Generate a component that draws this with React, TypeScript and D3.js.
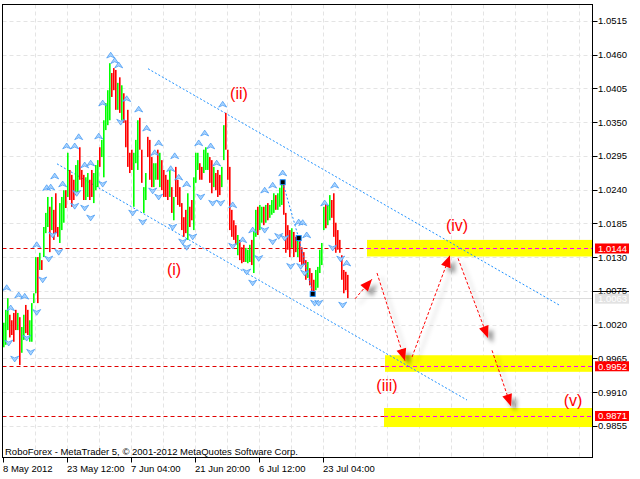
import React from 'react';
import * as d3 from 'd3';

// ---- candle data (H4 bars) ----
const highs = [
  1.0023, 1.0044, 1.0063, 1.0036, 1.0027, 1.0039, 1.0044, 1.0039, 1.0032, 1.0016,
  1.0036, 1.0052, 1.0044, 1.0027, 1.0055, 1.0071, 1.0130, 1.0130, 1.0137, 1.0125,
  1.0179, 1.0202, 1.0228, 1.0212, 1.0228, 1.0207, 1.0234, 1.0179, 1.0218, 1.0228,
  1.0239, 1.0239, 1.0300, 1.0272, 1.0264, 1.0256, 1.0280, 1.0288, 1.0309, 1.0272,
  1.0264, 1.0260, 1.0267, 1.0256, 1.0272, 1.0267, 1.0280, 1.0288, 1.0309, 1.0321,
  1.0353, 1.0381, 1.0402, 1.0446, 1.0430, 1.0438, 1.0435, 1.0414, 1.0423, 1.0410,
  1.0397, 1.0353, 1.0370, 1.0300, 1.0305, 1.0300, 1.0321, 1.0353, 1.0357, 1.0305,
  1.0244, 1.0267, 1.0326, 1.0321, 1.0293, 1.0283, 1.0283, 1.0305, 1.0300, 1.0288,
  1.0272, 1.0264, 1.0256, 1.0272, 1.0244, 1.0228, 1.0277, 1.0256, 1.0244, 1.0218,
  1.0195, 1.0207, 1.0234, 1.0212, 1.0223, 1.0260, 1.0300, 1.0300, 1.0283, 1.0277,
  1.0305, 1.0309, 1.0300, 1.0293, 1.0288, 1.0277, 1.0267, 1.0272, 1.0264, 1.0277,
  1.0345, 1.0365, 1.0305, 1.0277, 1.0207, 1.0190, 1.0182, 1.0166, 1.0158, 1.0146,
  1.0150, 1.0145, 1.0142, 1.0150, 1.0158, 1.0174, 1.0207, 1.0212, 1.0215, 1.0212,
  1.0212, 1.0215, 1.0218, 1.0215, 1.0223, 1.0234, 1.0231, 1.0234, 1.0243, 1.0251,
  1.0252, 1.0202, 1.0182, 1.0174, 1.0177, 1.0171, 1.0163, 1.0158, 1.0158, 1.0146,
  1.0138, 1.0125, 1.0122, 1.0112, 1.0104, 1.0093, 1.0109, 1.0114, 1.0142, 1.0153,
  1.0212, 1.0218, 1.0215, 1.0231, 1.0223, 1.0234, 1.0186, 1.0174, 1.0158, 1.0133,
  1.0109, 1.0106, 1.0101,
];
const lows = [
  0.9983, 0.9987, 1.0011, 0.9999, 1.0003, 0.9992, 1.0011, 1.0011, 0.9954, 0.9974,
  0.9995, 1.0006, 1.0003, 0.9992, 0.9992, 1.0055, 1.0071, 1.0055, 1.0109, 1.0109,
  1.0130, 1.0169, 1.0179, 1.0138, 1.0174, 1.0158, 1.0169, 1.0163, 1.0153, 1.0174,
  1.0186, 1.0210, 1.0228, 1.0223, 1.0212, 1.0223, 1.0231, 1.0234, 1.0256, 1.0244,
  1.0223, 1.0223, 1.0228, 1.0223, 1.0228, 1.0218, 1.0239, 1.0244, 1.0277, 1.0293,
  1.0260, 1.0337, 1.0345, 1.0353, 1.0391, 1.0402, 1.0370, 1.0370, 1.0365, 1.0353,
  1.0349, 1.0309, 1.0277, 1.0267, 1.0272, 1.0212, 1.0283, 1.0272, 1.0305, 1.0251,
  1.0202, 1.0223, 1.0293, 1.0256, 1.0244, 1.0244, 1.0256, 1.0256, 1.0244, 1.0239,
  1.0228, 1.0228, 1.0223, 1.0228, 1.0202, 1.0190, 1.0228, 1.0215, 1.0212, 1.0174,
  1.0163, 1.0169, 1.0158, 1.0179, 1.0190, 1.0174, 1.0251, 1.0272, 1.0256, 1.0256,
  1.0267, 1.0272, 1.0272, 1.0251, 1.0234, 1.0244, 1.0239, 1.0228, 1.0231, 1.0244,
  1.0288, 1.0305, 1.0256, 1.0174, 1.0163, 1.0158, 1.0150, 1.0133, 1.0125, 1.0120,
  1.0122, 1.0122, 1.0120, 1.0122, 1.0117, 1.0104, 1.0163, 1.0166, 1.0174, 1.0186,
  1.0182, 1.0186, 1.0190, 1.0194, 1.0199, 1.0202, 1.0207, 1.0207, 1.0212, 1.0215,
  1.0199, 1.0137, 1.0142, 1.0130, 1.0145, 1.0130, 1.0138, 1.0130, 1.0122, 1.0114,
  1.0117, 1.0093, 1.0096, 1.0084, 1.0071, 1.0070, 1.0076, 1.0080, 1.0104, 1.0117,
  1.0174, 1.0177, 1.0182, 1.0190, 1.0194, 1.0163, 1.0137, 1.0142, 1.0137, 1.0093,
  1.0071, 1.0076, 1.0063,
];
// G = bullish bar, R = bearish bar
const directions = (
  'GGGRRRRGRG' + 'GRRGGGGRGR' + 'GGGRGRRRGG' + 'GRGRRRGGRR' + 'RGGRRGGGRG' +
  'GGGGRRRGRG' + 'RRRRRGGGRR' + 'GGRRRGGRGR' + 'RRRGRGRRRR' + 'RRGRRGGGRR' +
  'GGGRRGRRRG' + 'GRRRRRRGRR' + 'RGGGRGGRGG' + 'RGRGGGRGGG' + 'RRRRGRRGRR' +
  'RRGRRRGGGG' + 'GRGGRRRRRR' + 'RRR'
).split('');

// ---- axes ----
const priceTicks = [1.0515, 1.046, 1.0405, 1.035, 1.0295, 1.024, 1.0185, 1.013, 1.0075, 1.002, 0.9965, 0.991, 0.9855];
const timeTickIndex = [0, 32, 64, 96, 128, 160];
const timeLabels = ['8 May 2012', '23 May 12:00', '7 Jun 04:00', '21 Jun 20:00', '6 Jul 12:00', '23 Jul 04:00'];
const gridIndex = d3.range(16, 290, 16);

// ---- fractals [bar index, price] ----
const fractalsUp: [number, number][] = [
  [2, 1.008], [4, 1.0047], [8, 1.0068], [11, 1.0066], [17, 1.015], [22, 1.0243], [24, 1.0244],
  [26, 1.0262], [30, 1.0249], [32, 1.0311], [36, 1.0311], [38, 1.0326], [41, 1.028], [44, 1.0283],
  [48, 1.0327], [50, 1.0381], [54, 1.0459], [56, 1.045], [58, 1.0443], [62, 1.0388], [68, 1.0371],
  [72, 1.034], [76, 1.03], [78, 1.0316], [84, 1.0274], [86, 1.0295], [88, 1.026], [92, 1.0249],
  [98, 1.0316], [101, 1.0332], [104, 1.0311], [107, 1.0283], [110, 1.0379], [115, 1.0215],
  [120, 1.0158], [125, 1.0174], [131, 1.0239], [135, 1.0247], [140, 1.0267], [148, 1.0187],
  [150, 1.0186], [152, 1.0166], [161, 1.0218], [166, 1.0247], [172, 1.012],
];
const fractalsDown: [number, number][] = [
  [3, 0.999], [6, 0.9964], [12, 0.9998], [14, 0.9975], [17, 1.004], [20, 1.0093], [23, 1.0127],
  [25, 1.0166], [28, 1.0138], [36, 1.0213], [37, 1.0234], [41, 1.021], [44, 1.0194], [50, 1.0249],
  [59, 1.035], [65, 1.0202], [70, 1.0187], [75, 1.0238], [78, 1.0228], [85, 1.0179], [90, 1.0155],
  [92, 1.0146], [95, 1.0163], [99, 1.0228], [105, 1.0218], [109, 1.0218], [115, 1.0148],
  [122, 1.0106], [125, 1.0088], [128, 1.0128], [131, 1.0174], [135, 1.0155], [138, 1.0164],
  [141, 1.0161], [144, 1.0115], [149, 1.0115], [151, 1.0104], [156, 1.0055], [158, 1.0055],
  [165, 1.0145], [169, 1.0127], [170, 1.0052],
];

// ---- analysis drawings ----
const zigzag: [number, number][] = [[140, 1.0252], [148, 1.0161], [155, 1.007]];
const channelUpper: [number, number][] = [[72.65, 1.0437], [278.15, 1.0052]];
const channelLower: [number, number][] = [[27.15, 1.0282], [232.15, 0.9897]];
const forecastArrows: [number, number][][] = [
  [[176.15, 1.0062], [184.65, 1.0094]],
  [[187.15, 1.0104], [201.15, 0.9961]],
  [[204.65, 0.9967], [223.65, 1.0133]],
  [[227.65, 1.0128], [242.65, 0.9998]],
  [[244.65, 0.9978], [254.15, 0.9887]],
];
const targetLevels = [1.0144, 0.9952, 0.9871];
const zoneTops = [1.0158, 0.997, 0.9884];
const zoneBottoms = [1.0131, 0.9943, 0.9853];
const zoneStarts = [182.15, 191.15, 190.65];
const currentPrice = 1.0063;
const askMark = 1.0075;
const waveTexts = ['(i)', '(ii)', '(iii)', '(iv)', '(v)'];
const waveIndex = [85.65, 118.15, 192.15, 227.15, 285.15];
const wavePrice = [1.0109, 1.0397, 0.992, 1.0181, 0.9897];

const FONT = "'Liberation Sans', Arial, sans-serif";

export default function App() {
  const W = 640, H = 479;
  const L = 2.5, T = 4.5, R = 592.5, B = 457.5;
  const x = d3.scaleLinear().domain([0, 294.65]).range([2.7, 592]);
  const y = d3.scaleLinear().domain([0.9803, 1.05425]).range([457.7, 4]);
  const line = d3.line<[number, number]>().x((d) => x(d[0])).y((d) => y(d[1]));

  const upGlyph = 'M0,-3 L4,2.8 L0,1 L-4,2.8 Z';
  const downGlyph = 'M0,3 L4,-2.8 L0,-1 L-4,-2.8 Z';

  const arrowHead = (a: [number, number], b: [number, number]) => {
    const x0 = x(a[0]), y0 = y(a[1]), x1 = x(b[0]), y1 = y(b[1]);
    const len = Math.hypot(x1 - x0, y1 - y0);
    const ux = (x1 - x0) / len, uy = (y1 - y0) / len;
    const bx = x1 - ux * 12, by = y1 - uy * 12;
    const px = -uy * 5, py = ux * 5;
    return `M${x1},${y1} L${bx + px},${by + py} L${bx - px},${by - py} Z`;
  };

  return (
    <svg width={W} height={H} style={{ position: 'absolute', left: 0, top: 0, background: '#fff' }}>
      <defs>
        <filter id="shadow" x="-50%" y="-50%" width="200%" height="200%">
          <feGaussianBlur in="SourceAlpha" stdDeviation="2" />
          <feOffset dx="5" dy="5" result="ob" />
          <feFlood floodColor="#000" floodOpacity="0.4" />
          <feComposite in2="ob" operator="in" />
          <feMerge>
            <feMergeNode />
            <feMergeNode in="SourceGraphic" />
          </feMerge>
        </filter>
        <clipPath id="plot">
          <rect x={L} y={T} width={R - L} height={B - T} />
        </clipPath>
      </defs>
      <rect x={0} y={0} width={W} height={H} fill="#fff" />

      {/* grid */}
      <g stroke="#e4e4e4" strokeDasharray="4,3" strokeWidth={1}>
        {priceTicks.map((p) => (
          <line key={'h' + p} x1={L} x2={R} y1={Math.round(y(p)) + 0.5} y2={Math.round(y(p)) + 0.5} />
        ))}
        {gridIndex.map((i) => (
          <line key={'v' + i} x1={Math.round(x(i)) + 0.5} x2={Math.round(x(i)) + 0.5} y1={T} y2={B} />
        ))}
      </g>

      <g clipPath="url(#plot)">
        {/* current price line */}
        <line x1={L} x2={R} y1={Math.round(y(currentPrice)) + 0.5} y2={Math.round(y(currentPrice)) + 0.5} stroke="#dcdcdc" />

        {/* target zones */}
        {targetLevels.map((lv, k) => {
          const yl = Math.round(y(lv)) + 0.5;
          const xs = x(zoneStarts[k]);
          return (
            <g key={'z' + k}>
              <line x1={L} x2={xs} y1={yl} y2={yl} stroke="#e00000" strokeDasharray="4,3" />
              <rect x={xs} y={y(zoneTops[k])} width={R - xs} height={y(zoneBottoms[k]) - y(zoneTops[k])} fill="#ffff00" />
              <line x1={xs} x2={R} y1={yl} y2={yl} stroke="#ff00ff" strokeDasharray="4,3" />
            </g>
          );
        })}

        {/* channel */}
        <path d={line(channelUpper) || ''} fill="none" stroke="#1e90ff" strokeDasharray="2,2" />
        <path d={line(channelLower) || ''} fill="none" stroke="#1e90ff" strokeDasharray="2,2" />

        {/* candles */}
        {highs.map((h, i) => (
          <rect
            key={'c' + i}
            x={Math.round(x(i))}
            y={y(h)}
            width={1.6}
            height={Math.max(1, y(lows[i]) - y(h))}
            fill={directions[i] === 'G' ? '#00ff00' : '#ff0000'}
          />
        ))}

        {/* fractals */}
        <g fill="#a8d3ff" stroke="#3d95f2" strokeWidth={0.7}>
          {fractalsUp.map((f, k) => (
            <path key={'fu' + k} d={upGlyph} transform={`translate(${x(f[0])},${y(f[1])})`} />
          ))}
          {fractalsDown.map((f, k) => (
            <path key={'fd' + k} d={downGlyph} transform={`translate(${x(f[0])},${y(f[1])})`} />
          ))}
        </g>

        {/* zigzag */}
        <path d={line(zigzag) || ''} fill="none" stroke="#1e90ff" strokeDasharray="2,2" />
        {zigzag.map((z, k) => (
          <rect key={'zz' + k} x={x(z[0]) - 2.5} y={y(z[1]) - 2.5} width={5} height={5} fill="#000" stroke="#1e90ff" strokeWidth={1} />
        ))}

        {/* forecast arrows */}
        <g filter="url(#shadow)">
          {forecastArrows.map((a, k) => (
            <g key={'a' + k}>
              <line x1={x(a[0][0])} y1={y(a[0][1])} x2={x(a[1][0])} y2={y(a[1][1])} stroke="#ff0000" strokeDasharray="3,2" />
              <path d={arrowHead(a[0], a[1])} fill="#ff0000" />
            </g>
          ))}
        </g>

        {/* wave labels */}
        {waveTexts.map((t, k) => (
          <text
            key={'w' + k}
            x={x(waveIndex[k])}
            y={y(wavePrice[k])}
            textAnchor="middle"
            dominantBaseline="central"
            fontFamily={FONT}
            fontSize={16}
            fill="#ff0000"
          >
            {t}
          </text>
        ))}

        <text x={5} y={455} fontFamily={FONT} fontSize={9.5} fill="#000">
          RoboForex - MetaTrader 5, © 2001-2012 MetaQuotes Software Corp.
        </text>
      </g>

      {/* frame */}
      <rect x={L} y={T} width={R - L} height={B - T} fill="none" stroke="#000" strokeWidth={1} />

      {/* price axis */}
      <g fontFamily={FONT} fontSize={9.5} fill="#000">
        {priceTicks.map((p) => (
          <g key={'pt' + p}>
            <line x1={R} x2={R + 5} y1={Math.round(y(p)) + 0.5} y2={Math.round(y(p)) + 0.5} stroke="#000" />
            <text x={598} y={y(p)} dominantBaseline="central">
              {p.toFixed(4)}
            </text>
          </g>
        ))}
      </g>
      <line x1={R} x2={629} y1={Math.round(y(askMark)) + 0.5} y2={Math.round(y(askMark)) + 0.5} stroke="#000" />

      {/* price tags */}
      <g fontFamily={FONT} fontSize={9.5}>
        <rect x={595} y={y(currentPrice) - 4.5} width={34} height={10} fill="#e2e2e2" />
        <text x={598} y={y(currentPrice) + 0.5} dominantBaseline="central" fill="#fff">
          {currentPrice.toFixed(4)}
        </text>
        {targetLevels.map((lv) => (
          <g key={'tag' + lv}>
            <rect x={595} y={y(lv) - 5} width={34} height={10} fill="#ff0000" />
            <text x={598} y={y(lv)} dominantBaseline="central" fill="#fff">
              {lv.toFixed(4)}
            </text>
          </g>
        ))}
      </g>

      {/* time axis */}
      <g fontFamily={FONT} fontSize={9.5} fill="#000">
        {timeTickIndex.map((i, k) => (
          <g key={'tt' + i}>
            <line x1={Math.round(x(i)) + 0.5} x2={Math.round(x(i)) + 0.5} y1={B} y2={B + 5} stroke="#000" />
            <text x={Math.round(x(i))} y={472}>
              {timeLabels[k]}
            </text>
          </g>
        ))}
      </g>
    </svg>
  );
}
